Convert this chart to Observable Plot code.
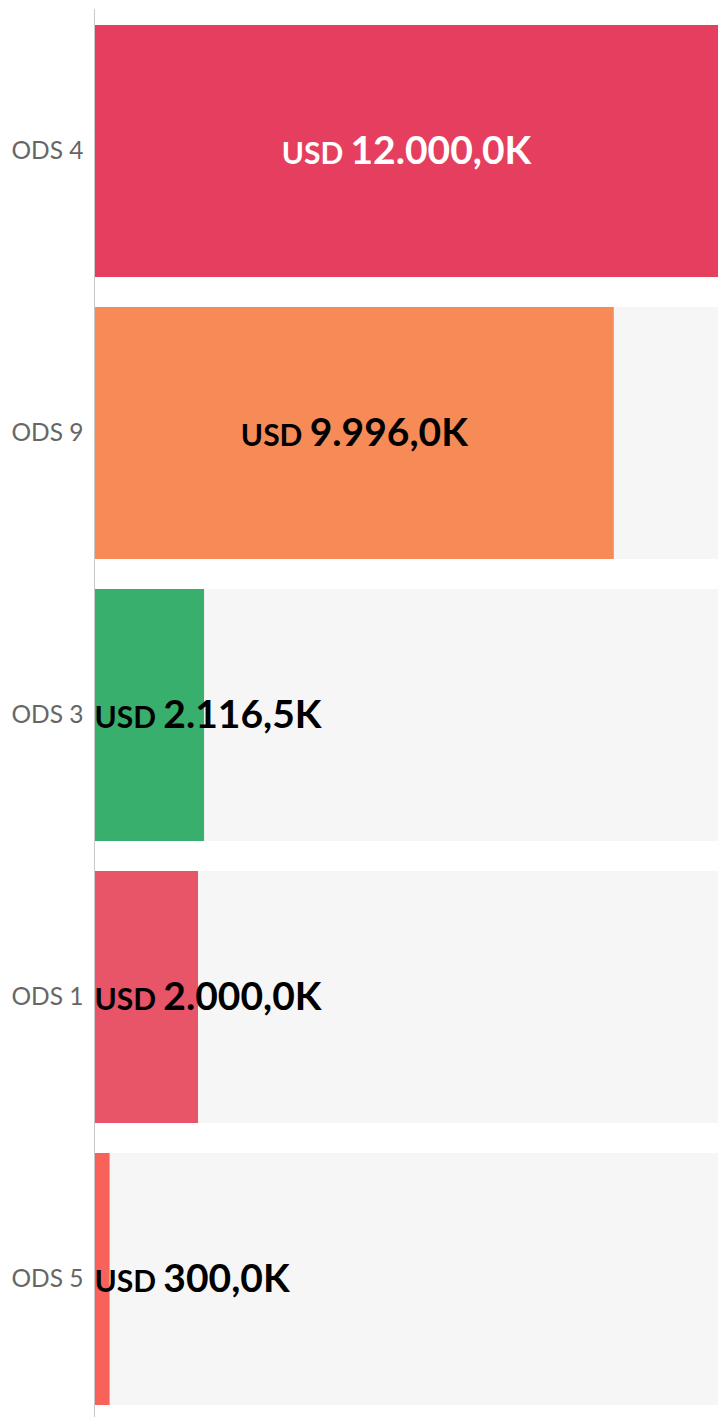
<!DOCTYPE html>
<html>
<head>
<meta charset="utf-8">
<script src="https://cdn.jsdelivr.net/npm/d3@7"></script>
<script src="https://cdn.jsdelivr.net/npm/@observablehq/plot@0.6"></script>
<style>
  html, body { margin: 0; padding: 0; background: #fff; }
  #chart { width: 718px; height: 1417px; }
</style>
</head>
<body>
<div id="chart"></div>
<script>
const categories = ["ODS 4", "ODS 9", "ODS 3", "ODS 1", "ODS 5"];
const values = [12000, 9996, 2116.5, 2000, 300];
const barColors = ["#e63e5e", "#f68b58", "#39af6e", "#e85468", "#f9625a"];
const labelColors = ["#ffffff", "#000000", "#000000", "#000000", "#000000"];
const maxValue = 12000;

const locale = d3.formatLocale({decimal: ",", thousands: ".", grouping: [3], currency: ["", ""]});
const fmt = locale.format(",.1f");

const data = categories.map((c, i) => ({
  cat: c,
  value: values[i],
  color: barColors[i],
  labelColor: labelColors[i],
  inside: values[i] / maxValue > 0.5,
  label: "USD " + fmt(values[i]) + "K"
}));

function splitLabel(index, scales, vals, dims, ctx, next) {
  const g = next(index, scales, vals, dims, ctx);
  d3.select(g).selectAll("text").each(function () {
    const t = this.textContent;
    const parts = t.split(" ");
    const sel = d3.select(this);
    sel.text(null);
    sel.append("tspan").attr("font-size", 30).text(parts[0] + " ");
    sel.append("tspan").text(parts.slice(1).join(" "));
  });
  return g;
}

const font = "'Lato', 'Noto Sans', sans-serif";

const chart = Plot.plot({
  width: 718,
  height: 1417,
  marginLeft: 94,
  marginRight: 0,
  marginTop: 9,
  marginBottom: 0,
  style: {fontFamily: font, background: "#ffffff"},
  x: {type: "linear", domain: [0, maxValue], axis: null},
  y: {domain: categories, paddingInner: 0.1064, paddingOuter: 0.0496, align: 0.571, label: null},
  marks: [
    Plot.barX(data, {y: "cat", x: () => maxValue, fill: "#f6f6f6"}),
    Plot.barX(data, {y: "cat", x: "value", fill: "color"}),
    Plot.ruleX([0], {stroke: "#c8c8c8", strokeWidth: 1}),
    Plot.axisY({tickSize: 0, tickPadding: 11, fontSize: 24.5, fill: "#666666", label: null, fontFamily: font}),
    Plot.text(data.filter(d => d.inside), {
      y: "cat", x: d => d.value / 2, text: "label", fill: "labelColor",
      fontSize: 39, fontWeight: "bold", textAnchor: "middle", fontFamily: font,
      render: splitLabel
    }),
    Plot.text(data.filter(d => !d.inside), {
      y: "cat", x: 0, text: "label", fill: "labelColor",
      fontSize: 39, fontWeight: "bold", textAnchor: "start", dx: 0, fontFamily: font,
      render: splitLabel
    })
  ]
});

document.getElementById("chart").appendChild(chart);
</script>
</body>
</html>
